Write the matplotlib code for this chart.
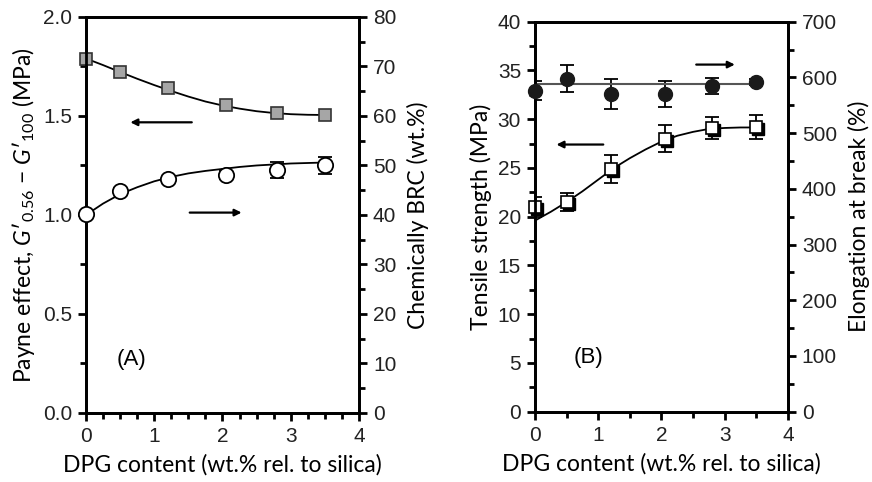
import matplotlib
matplotlib.use("Agg")
import matplotlib.pyplot as plt
import matplotlib.transforms as mtransforms
from matplotlib.ticker import MultipleLocator, FormatStrFormatter

# ---- data ----
dpg = [0.0, 0.5, 1.2, 2.05, 2.8, 3.5]

# panel A
payne = [1.79, 1.72, 1.64, 1.555, 1.515, 1.505]
brc = [40.1, 44.8, 47.2, 48.1, 49.1, 50.0]
brc_err = [0.4, 0.6, 0.5, 0.8, 1.7, 1.7]

fit_x = [0.0, 0.25, 0.5, 0.75, 1.0, 1.25, 1.5, 1.75, 2.0, 2.25, 2.5, 2.75, 3.0, 3.25, 3.5]
payne_fit = [1.79, 1.757, 1.722, 1.688, 1.656, 1.626, 1.598, 1.573, 1.553, 1.537,
             1.524, 1.515, 1.509, 1.506, 1.505]
brc_fit = [40.0, 42.3, 44.2, 45.6, 46.8, 47.7, 48.4, 48.9, 49.3, 49.7,
           50.0, 50.2, 50.4, 50.5, 50.6]

# panel B
tensile = [21.0, 21.5, 24.9, 28.0, 29.1, 29.2]
tensile_err = [1.0, 0.9, 1.4, 1.4, 1.1, 1.2]
tensile_fit = [19.6, 20.5, 21.5, 22.6, 23.8, 25.0, 26.0, 26.9, 27.7, 28.3,
               28.7, 29.0, 29.1, 29.15, 29.15]
elong = [576, 598, 570, 570, 585, 592]
elong_err = [17, 24, 27, 23, 14, 5]
elong_mean = 588

LABEL_FONT = "Lato"
TICK_FONT = "Liberation Sans"
LABEL_SIZE = 16.5
TICK_SIZE = 15

plt.rcParams["font.family"] = TICK_FONT
plt.rcParams["mathtext.fontset"] = "custom"
plt.rcParams["mathtext.rm"] = LABEL_FONT
plt.rcParams["mathtext.it"] = LABEL_FONT + ":italic"


def style_axis(ax):
    for s in ax.spines.values():
        s.set_linewidth(2.0)
    ax.tick_params(which="both", direction="out", width=2.0, labelsize=TICK_SIZE,
                   pad=4, colors="black")
    ax.tick_params(which="major", length=6)
    ax.tick_params(which="minor", length=4)
    for lab in ax.get_yticklabels() + ax.get_xticklabels():
        lab.set_color("#222222")


def arrow(ax, x0, x1, y):
    ax.annotate("", xy=(x1, y), xytext=(x0, y),
                arrowprops=dict(arrowstyle="-|>", color="black", lw=1.6,
                                mutation_scale=10, shrinkA=0, shrinkB=0))


fig = plt.figure(figsize=(8.72, 4.82), dpi=100)

# ---------------- panel A ----------------
axA = fig.add_axes([0.0986, 0.1432, 0.3131, 0.8216])
axA2 = axA.twinx()

axA.plot(fit_x, payne_fit, color="black", lw=1.3, zorder=2)
axA.plot(dpg, payne, "s", ms=9, mfc="#a6a6a6", mec="#333333", mew=1.2,
         zorder=3, clip_on=False)

axA2.errorbar(dpg, brc, yerr=brc_err, fmt="none", ecolor="black", elinewidth=1.3,
              capsize=5, capthick=1.3, zorder=2)
axA2.plot(fit_x, brc_fit, color="black", lw=1.3, zorder=2)
axA2.plot(dpg, brc, "o", ms=11, mfc="white", mec="black", mew=1.3,
          zorder=3, clip_on=False)

axA.set_xlim(0, 4)
axA.set_ylim(0, 2.0)
axA2.set_ylim(0, 80)
axA.xaxis.set_major_locator(MultipleLocator(1))
axA.xaxis.set_minor_locator(MultipleLocator(0.25))
axA.yaxis.set_major_locator(MultipleLocator(0.5))
axA.yaxis.set_minor_locator(MultipleLocator(0.25))
axA.yaxis.set_major_formatter(FormatStrFormatter("%.1f"))
axA2.yaxis.set_major_locator(MultipleLocator(10))
axA2.yaxis.set_minor_locator(MultipleLocator(5))
style_axis(axA)
style_axis(axA2)

arrow(axA, 1.55, 0.65, 1.468)
arrow(axA, 1.52, 2.28, 1.012)
axA.text(0.67, 0.27, "(A)", fontsize=16, family=TICK_FONT, ha="center", va="center")

axA.set_xlabel("DPG content (wt.% rel. to silica)", fontsize=LABEL_SIZE,
               family=LABEL_FONT, labelpad=6)
axA.set_ylabel("Payne effect, $G$\u2032$_{0.56}$ \u2212 $G$\u2032$_{100}$ (MPa)",
               fontsize=LABEL_SIZE, family=LABEL_FONT, labelpad=4)
axA2.set_ylabel("Chemically BRC (wt.%)", fontsize=LABEL_SIZE, family=LABEL_FONT,
                labelpad=8)

# ---------------- panel B ----------------
axB = fig.add_axes([0.6135, 0.1459, 0.2901, 0.8091])
axB2 = axB.twinx()

shadow = axB.transData + mtransforms.ScaledTranslation(1.4 / 72, -1.6 / 72,
                                                       fig.dpi_scale_trans)
axB.errorbar(dpg, tensile, yerr=tensile_err, fmt="none", ecolor="black",
             elinewidth=1.3, capsize=5, capthick=1.3, zorder=2)
axB.plot(fit_x, tensile_fit, color="black", lw=1.3, zorder=2)
axB.plot(dpg, tensile, "s", ms=9, mfc="black", mec="black", transform=shadow,
         zorder=3, clip_on=False)
axB.plot(dpg, tensile, "s", ms=9, mfc="white", mec="black", mew=1.2,
         zorder=4, clip_on=False)

axB2.errorbar(dpg, elong, yerr=elong_err, fmt="none", ecolor="black",
              elinewidth=1.3, capsize=5, capthick=1.3, zorder=2)
axB2.plot([dpg[0], dpg[-1]], [elong_mean, elong_mean], color="#555555", lw=1.5, zorder=2)
axB2.plot(dpg, elong, "o", ms=10, mfc="#1a1a1a", mec="#1a1a1a",
          zorder=3, clip_on=False)

axB.set_xlim(0, 4)
axB.set_ylim(0, 40)
axB2.set_ylim(0, 700)
axB.xaxis.set_major_locator(MultipleLocator(1))
axB.xaxis.set_minor_locator(MultipleLocator(0.5))
axB.yaxis.set_major_locator(MultipleLocator(5))
axB.yaxis.set_minor_locator(MultipleLocator(2.5))
axB2.yaxis.set_major_locator(MultipleLocator(100))
axB2.yaxis.set_minor_locator(MultipleLocator(50))
style_axis(axB)
style_axis(axB2)

arrow(axB, 1.08, 0.34, 27.4)
arrow(axB2, 2.55, 3.16, 623)
axB.text(0.85, 5.6, "(B)", fontsize=16, family=TICK_FONT, ha="center", va="center")

axB.set_xlabel("DPG content (wt.% rel. to silica)", fontsize=LABEL_SIZE,
               family=LABEL_FONT, labelpad=6)
axB.set_ylabel("Tensile strength (MPa)", fontsize=LABEL_SIZE, family=LABEL_FONT,
               labelpad=4)
axB2.set_ylabel("Elongation at break (%)", fontsize=LABEL_SIZE, family=LABEL_FONT,
                labelpad=8)

fig.savefig("out.png", dpi=100)
